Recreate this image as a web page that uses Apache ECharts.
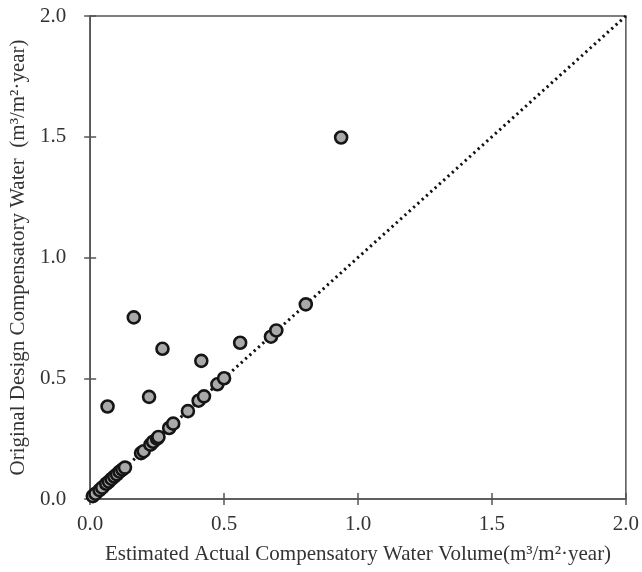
<!DOCTYPE html>
<html>
<head>
<meta charset="utf-8">
<script src="https://cdn.jsdelivr.net/npm/echarts@6/dist/echarts.min.js"></script>
<style>html,body{margin:0;padding:0;background:#fff}#c{width:642px;height:572px}</style>
</head>
<body>
<div id="c"></div>
<script>
// Estimated actual compensatory water volume (x) vs original design (y)
const estimatedActual = [0.01,0.02,0.035,0.045,0.06,0.07,0.08,0.09,0.10,0.11,0.12,0.13,
  0.19,0.20,0.225,0.235,0.25,0.255,0.295,0.31,0.365,0.405,0.425,0.475,0.50,0.675,0.695,0.805,
  0.065,0.163,0.22,0.27,0.415,0.56,0.937];
const originalDesign = [0.012,0.022,0.037,0.047,0.063,0.072,0.083,0.093,0.102,0.113,0.122,0.13,
  0.19,0.198,0.225,0.237,0.25,0.257,0.294,0.312,0.364,0.407,0.425,0.475,0.50,0.672,0.698,0.806,
  0.383,0.752,0.423,0.622,0.572,0.647,1.497];
const refLine = [[0,0],[2,2]];
const axisTicks = [0,0.5,1.0,1.5,2.0];

const points = estimatedActual.map((x,i)=>[x, originalDesign[i]]);
const font = '"Liberation Serif", "Times New Roman", serif';
const txt = '#333';
const axc = '#555';

const chart = echarts.init(document.getElementById('c'), null, {renderer:'canvas'});
chart.setOption({
  animation:false,
  grid:{left:88,right:11,top:16,bottom:73,show:true,borderColor:axc,borderWidth:1.5,backgroundColor:'transparent'},
  xAxis:[{
    type:'value',min:0,max:2,interval:0.5,
    name:'Estimated Actual Compensatory Water Volume(m³/m²·year)',
    nameLocation:'middle',nameGap:45,
    nameTextStyle:{fontFamily:font,fontSize:21,color:txt},
    axisLine:{lineStyle:{color:axc,width:1.5}},
    axisTick:{inside:false,length:6,lineStyle:{color:axc,width:1.5}},
    axisLabel:{fontFamily:font,fontSize:21,color:txt,margin:15,formatter:v=>v.toFixed(1)},
    splitLine:{show:false}
  },{
    type:'value',min:0,max:2,interval:0.5,position:'bottom',
    axisLine:{show:false},axisLabel:{show:false},splitLine:{show:false},
    axisTick:{inside:true,length:6,lineStyle:{color:axc,width:1.5}}
  }],
  yAxis:[{
    type:'value',min:0,max:2,interval:0.5,
    name:'Original Design Compensatory Water  (m³/m²·year)',
    nameLocation:'middle',nameGap:60,
    nameTextStyle:{fontFamily:font,fontSize:21,color:txt},
    axisLine:{lineStyle:{color:axc,width:1.5}},
    axisTick:{inside:false,length:6,lineStyle:{color:axc,width:1.5}},
    axisLabel:{fontFamily:font,fontSize:21,color:txt,margin:24,formatter:v=>v.toFixed(1)},
    splitLine:{show:false}
  },{
    type:'value',min:0,max:2,interval:0.5,position:'left',
    axisLine:{show:false},axisLabel:{show:false},splitLine:{show:false},
    axisTick:{inside:true,length:6,lineStyle:{color:axc,width:1.5}}
  }],
  series:[{
    type:'line',data:refLine,symbol:'none',silent:true,
    lineStyle:{color:'#111',width:3,type:[2.2,3.6]},z:1
  },{
    type:'scatter',data:points,symbol:'circle',symbolSize:12,
    itemStyle:{color:'#a9a9a9',borderColor:'#151515',borderWidth:2.6,opacity:1},z:2
  }]
});
</script>
</body>
</html>
